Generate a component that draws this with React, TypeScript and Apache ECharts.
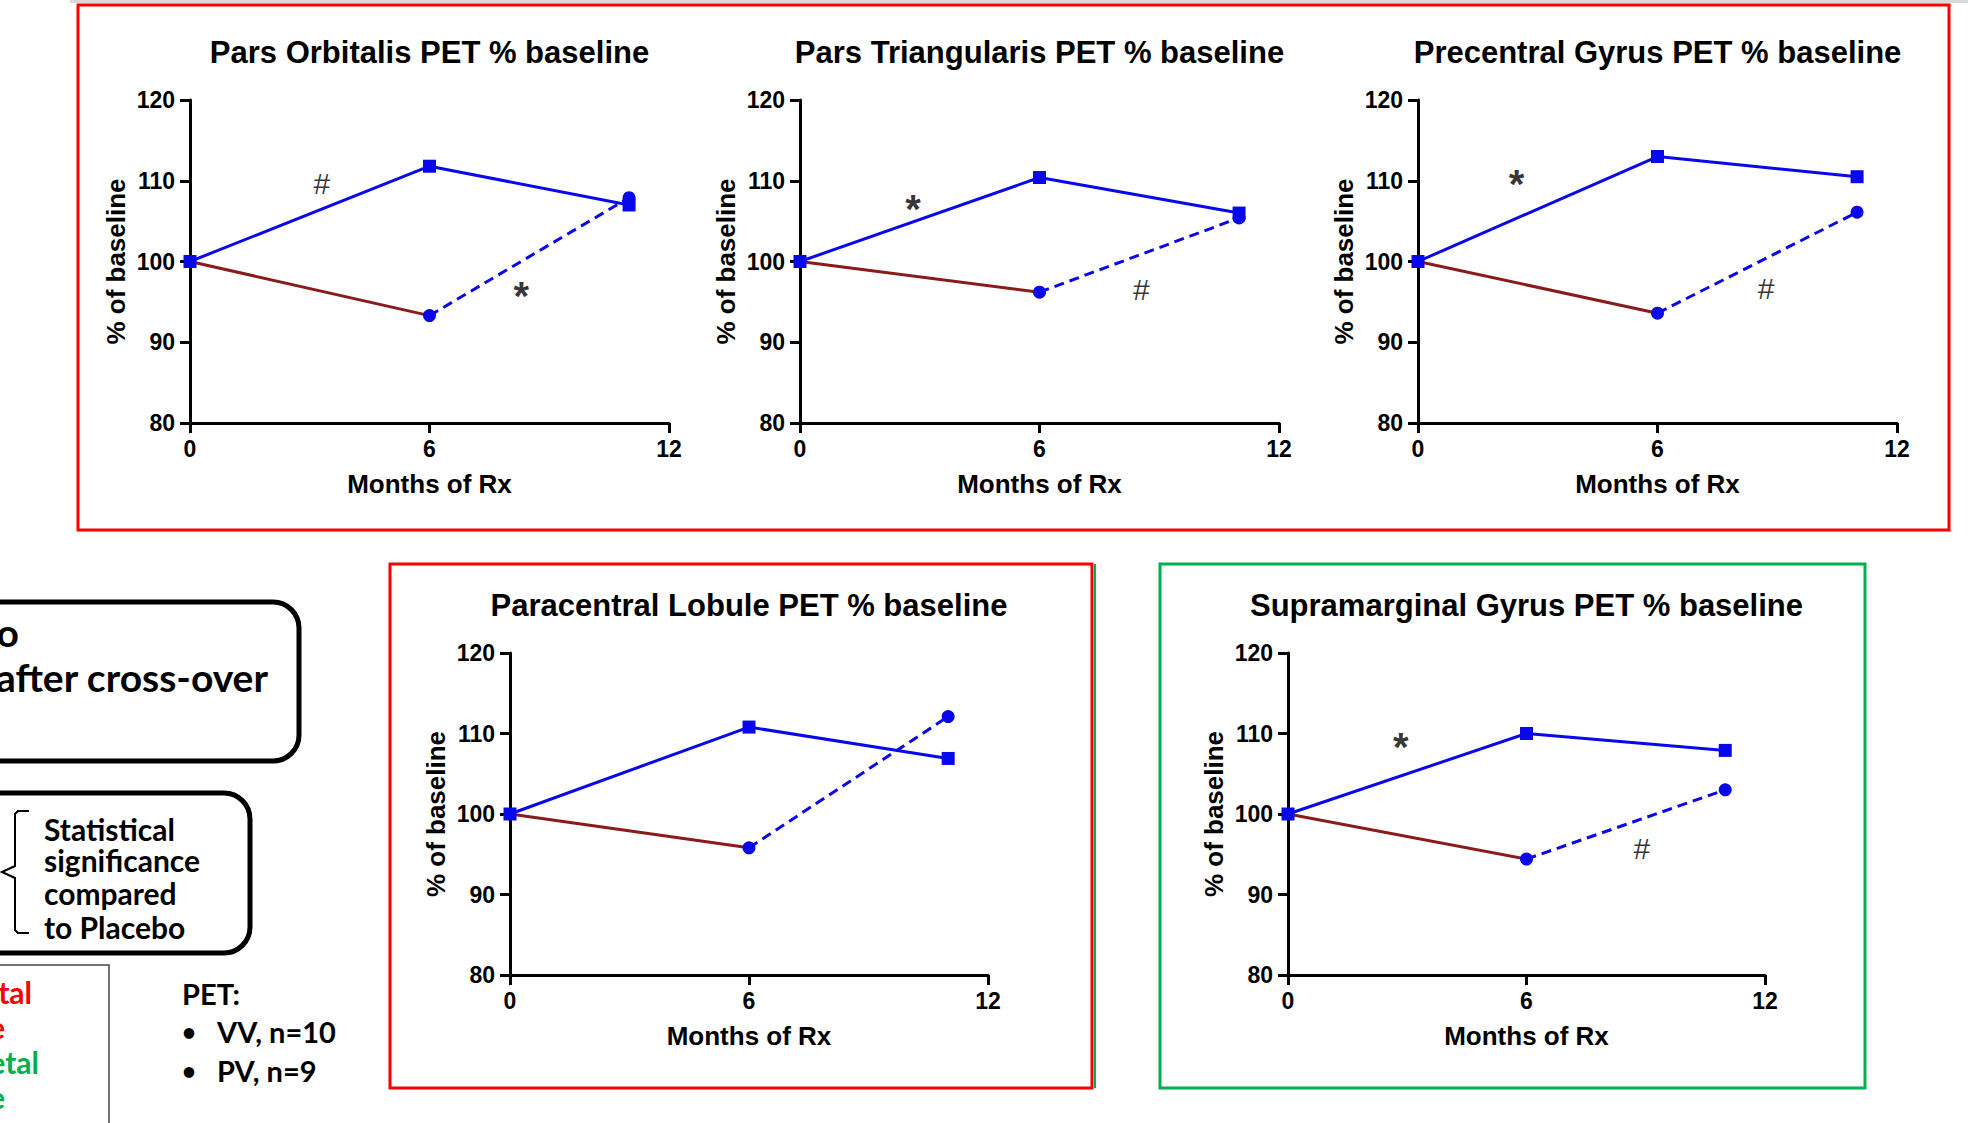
import React, { useEffect, useRef } from "react";
import * as echarts from "echarts";

// ---------- data ----------
const months = [0, 6, 11];
const chartTitles = [
  "Pars Orbitalis PET % baseline",
  "Pars Triangularis PET % baseline",
  "Precentral Gyrus PET % baseline",
  "Paracentral Lobule PET % baseline",
  "Supramarginal Gyrus PET % baseline",
];
// VV: active treatment throughout (solid blue, squares)
const vvParsOrbitalis = [100, 111.8, 107.0];
const vvParsTriangularis = [100, 110.4, 106.0];
const vvPrecentralGyrus = [100, 113.0, 110.5];
const vvParacentralLobule = [100, 110.8, 106.9];
const vvSupramarginalGyrus = [100, 110.0, 107.9];
// PV: placebo to 6 months (red), then treatment after cross-over (dashed blue, circles)
const pvParsOrbitalis = [100, 93.3, 107.9];
const pvParsTriangularis = [100, 96.2, 105.4];
const pvPrecentralGyrus = [100, 93.6, 106.1];
const pvParacentralLobule = [100, 95.8, 112.1];
const pvSupramarginalGyrus = [100, 94.4, 103.0];
// significance marks: [symbol, month, value]
const marksParsOrbitalis = [["#", 3.3, 109.7], ["*", 8.3, 96.5]];
const marksParsTriangularis = [["*", 2.83, 107.2], ["#", 8.55, 96.5]];
const marksPrecentralGyrus = [["*", 2.47, 110.4], ["#", 8.72, 96.6]];
const marksParacentralLobule: any[] = [];
const marksSupramarginalGyrus = [["*", 2.84, 109.1], ["#", 8.9, 95.7]];
const xTicks = { min: 0, max: 12, interval: 6 };
const yTicks = { min: 80, max: 120, interval: 10 };

const vvAll = [vvParsOrbitalis, vvParsTriangularis, vvPrecentralGyrus, vvParacentralLobule, vvSupramarginalGyrus];
const pvAll = [pvParsOrbitalis, pvParsTriangularis, pvPrecentralGyrus, pvParacentralLobule, pvSupramarginalGyrus];
const marksAll = [marksParsOrbitalis, marksParsTriangularis, marksPrecentralGyrus, marksParacentralLobule, marksSupramarginalGyrus];

// ---------- layout / style ----------
const grids = [
  { left: 190, top: 100, width: 479, height: 323 },
  { left: 800, top: 100, width: 479, height: 323 },
  { left: 1418, top: 100, width: 479, height: 323 },
  { left: 510, top: 653, width: 478, height: 322 },
  { left: 1288, top: 653, width: 477, height: 322 },
];
const BLUE = "#0808ea";
const DARKRED = "#8b1a1a";
const SANS = "'Liberation Sans', Arial, sans-serif";
const PANEL = "Lato, 'Open Sans', sans-serif";

function buildOption() {
  const title: any[] = [];
  const grid: any[] = [];
  const xAxis: any[] = [];
  const yAxis: any[] = [];
  const series: any[] = [];
  grids.forEach((g, i) => {
    grid.push({ ...g, containLabel: false });
    title.push({
      text: chartTitles[i],
      left: g.left + g.width / 2,
      top: g.top - 63,
      padding: 0,
      textAlign: "center",
      textVerticalAlign: "top",
      textStyle: { fontFamily: SANS, fontWeight: "bold", fontSize: 31, color: "#000" },
    });
    const axisCommon = {
      gridIndex: i,
      type: "value",
      nameLocation: "middle",
      axisLine: { show: true, onZero: false, lineStyle: { color: "#000", width: 3 } },
      axisTick: { show: true, length: 10, lineStyle: { color: "#000", width: 3 } },
      splitLine: { show: false },
    };
    xAxis.push({
      ...axisCommon,
      ...xTicks,
      name: "Months of Rx",
      nameGap: 48,
      nameTextStyle: { fontFamily: SANS, fontWeight: "bold", fontSize: 26, color: "#000" },
      axisLabel: { margin: 14, fontFamily: SANS, fontWeight: "bold", fontSize: 23, color: "#000" },
    });
    yAxis.push({
      ...axisCommon,
      ...yTicks,
      name: "% of baseline",
      nameRotate: 90,
      nameGap: 61,
      nameTextStyle: { fontFamily: SANS, fontWeight: "bold", fontSize: 26, color: "#000" },
      axisLabel: { margin: 15, fontFamily: SANS, fontWeight: "bold", fontSize: 23, color: "#000" },
    });
    const vv = vvAll[i];
    const pv = pvAll[i];
    series.push({
      type: "line",
      name: "PV placebo",
      xAxisIndex: i,
      yAxisIndex: i,
      clip: false,
      data: [0, 1].map((j) => [months[j], pv[j]]),
      symbol: "none",
      lineStyle: { color: DARKRED, width: 3 },
      z: 2,
    });
    series.push({
      type: "line",
      name: "PV after cross-over",
      xAxisIndex: i,
      yAxisIndex: i,
      clip: false,
      data: [1, 2].map((j) => [months[j], pv[j]]),
      symbol: "circle",
      symbolSize: 13,
      itemStyle: { color: BLUE },
      lineStyle: { color: BLUE, width: 3, type: [10, 6] },
      z: 3,
    });
    series.push({
      type: "line",
      name: "VV",
      xAxisIndex: i,
      yAxisIndex: i,
      clip: false,
      data: months.map((m, j) => [m, vv[j]]),
      symbol: "rect",
      symbolSize: 13,
      itemStyle: { color: BLUE },
      lineStyle: { color: BLUE, width: 3 },
      z: 4,
    });
    series.push({
      type: "scatter",
      xAxisIndex: i,
      yAxisIndex: i,
      clip: false,
      symbolSize: 1,
      itemStyle: { color: "rgba(0,0,0,0)" },
      data: marksAll[i].map((m: any) => ({
        name: m[0],
        value: [m[1], m[2]],
        label: m[0] === "*" ? { offset: [0, 6], fontSize: 40, fontWeight: "bold" } : { fontSize: 30 },
      })),
      label: {
        show: true,
        position: "inside",
        formatter: "{b}",
        color: "#000",
        fontFamily: SANS,
      },
      z: 5,
    });
  });

  const txt = (text: string, x: number, y: number, opts: any = {}) => ({
    type: "text",
    x,
    y,
    style: {
      text,
      fill: opts.fill || "#000",
      fontFamily: PANEL,
      fontWeight: "bold",
      fontSize: opts.size || 30,
      align: opts.align || "left",
      textAlign: opts.align || "left",
      verticalAlign: "middle",
      textVerticalAlign: "middle",
    },
    z: 10,
  });
  const RED = "#ff0000";
  const GREEN = "#00b050";
  const graphic = [
    { type: "rect", shape: { x: 70, y: 0, width: 1898, height: 3 }, style: { fill: "#d9d9d9" }, z: 1 },
    { type: "rect", shape: { x: 78, y: 5, width: 1871, height: 525 }, style: { fill: "none", stroke: RED, lineWidth: 3 }, z: 1 },
    { type: "rect", shape: { x: 390, y: 564, width: 702, height: 524 }, style: { fill: "none", stroke: RED, lineWidth: 3 }, z: 1 },
    { type: "line", shape: { x1: 1095, y1: 564, x2: 1095, y2: 1088 }, style: { stroke: GREEN, lineWidth: 2 }, z: 1 },
    { type: "rect", shape: { x: 1160, y: 564, width: 705, height: 524 }, style: { fill: "none", stroke: GREEN, lineWidth: 3 }, z: 1 },
    // left panel
    { type: "rect", shape: { x: -40, y: 602, width: 339, height: 159, r: 26 }, style: { fill: "none", stroke: "#000", lineWidth: 5 }, z: 1 },
    txt("o", 19, 632, { size: 39, align: "right" }),
    txt("after cross-over", 268, 677, { size: 39, align: "right" }),
    { type: "rect", shape: { x: -40, y: 793, width: 290, height: 160, r: 26 }, style: { fill: "none", stroke: "#000", lineWidth: 5 }, z: 1 },
    {
      type: "polyline",
      shape: { points: [[29, 811], [18, 811], [15, 814], [15, 866], [2, 872], [15, 878], [15, 930], [18, 933], [29, 933]] },
      style: { fill: "none", stroke: "#000", lineWidth: 2 },
      z: 1,
    },
    txt("Statistical", 44, 829),
    txt("significance", 44, 860),
    txt("compared", 44, 893),
    txt("to Placebo", 44, 927),
    { type: "rect", shape: { x: -10, y: 965, width: 119, height: 200 }, style: { fill: "none", stroke: "#444", lineWidth: 1.5 }, z: 1 },
    txt("tal", 32, 992, { fill: RED, align: "right" }),
    txt("e", 5, 1027, { fill: RED, align: "right" }),
    txt("etal", 39, 1062, { fill: GREEN, align: "right" }),
    txt("e", 5, 1097, { fill: GREEN, align: "right" }),
    txt("PET:", 182, 993, { size: 29 }),
    txt("\u2022", 182, 1031, { size: 24 }),
    txt("VV, n=10", 217, 1031, { size: 29 }),
    txt("\u2022", 182, 1070, { size: 24 }),
    txt("PV, n=9", 217, 1070, { size: 29 }),
  ];

  return {
    animation: false,
    backgroundColor: "#ffffff",
    title,
    grid,
    xAxis,
    yAxis,
    series,
    graphic,
  };
}

export default function App() {
  const ref = useRef<HTMLDivElement>(null);
  useEffect(() => {
    if (!ref.current) return;
    const chart = echarts.init(ref.current, undefined, { renderer: "svg" });
    chart.setOption(buildOption() as any);
    return () => chart.dispose();
  }, []);
  return (
    <div
      ref={ref}
      style={{ position: "fixed", left: 0, top: 0, width: 1968, height: 1123, background: "#fff" }}
    />
  );
}
